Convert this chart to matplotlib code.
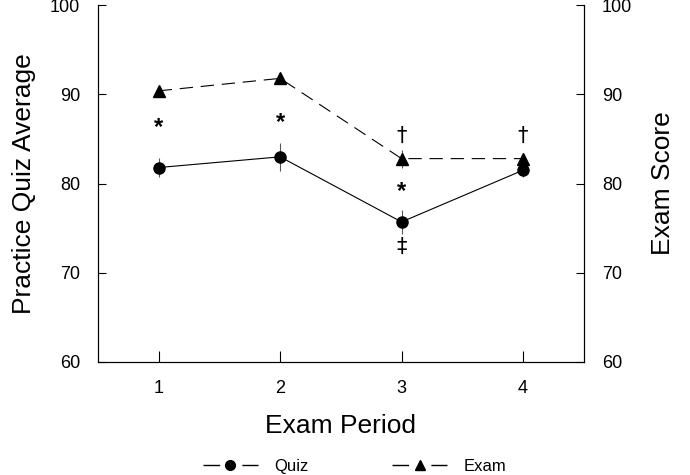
import matplotlib
matplotlib.use('Agg')
import matplotlib.pyplot as plt
from matplotlib.lines import Line2D

plt.rcParams['font.family'] = ['Liberation Sans', 'DejaVu Sans']

periods = [1, 2, 3, 4]
quiz = [81.8, 83.0, 75.7, 81.5]
quiz_err = [1.1, 1.6, 1.3, 0.8]
exam = [90.4, 91.8, 82.8, 82.8]
exam_err = [0.3, 0.3, 1.0, 0.4]

# significance marks: (x, y, symbol)
marks = [(1, 86.3, '*'), (2, 86.9, '*'), (3, 79.1, '*'),
         (3, 85.4, '†'), (4, 85.4, '†'), (3, 72.9, '‡')]

fig = plt.figure(figsize=(6.9, 4.75), dpi=100)
ax = fig.add_axes([0.142, 0.238, 0.704, 0.751])

ax.errorbar(periods, quiz, yerr=quiz_err, fmt='none', ecolor='#555555', elinewidth=0.8, capsize=0)
ax.errorbar(periods, exam, yerr=exam_err, fmt='none', ecolor='#555555', elinewidth=0.8, capsize=0)
ax.plot(periods, quiz, color='black', linewidth=0.8, marker='o', markersize=8)
ax.plot(periods, exam, color='black', linewidth=0.8, linestyle=(0, (12, 7)), marker='^', markersize=8)

for x, y, s in marks:
    if s == '*':
        ax.text(x, y, s, ha='center', va='center', fontsize=17, fontweight='bold')
    else:
        ax.text(x, y, s, ha='center', va='center', fontsize=15, family=['DejaVu Sans'])

ax.set_xlim(0.5, 4.5)
ax.set_ylim(60, 100)
ax.set_xticks(periods)
ax.set_yticks([60, 70, 80, 90, 100])
ax.spines['top'].set_visible(False)
ax.tick_params(direction='in', length=6, width=0.8, labelsize=13, pad=13)
ax.tick_params(axis='x', length=8)
ax.set_xlabel('Exam Period', fontsize=19, labelpad=12)
ax.set_ylabel('Practice Quiz Average', fontsize=19, labelpad=10)

ax2 = ax.twinx()
ax2.set_ylim(60, 100)
ax2.set_yticks([60, 70, 80, 90, 100])
ax2.spines['top'].set_visible(False)
ax2.tick_params(direction='in', length=6, width=0.8, labelsize=13, pad=13)
ax2.set_ylabel('Exam Score', fontsize=19, labelpad=14)

handles = [Line2D([], [], color='black', linewidth=1, linestyle=(0, (12, 16)), marker='o', markersize=7),
           Line2D([], [], color='black', linewidth=1, linestyle=(0, (12, 16)), marker='^', markersize=7)]
fig.legend(handles, ['Quiz', 'Exam'], loc='lower center', bbox_to_anchor=(0.514, -0.03), ncol=2, frameon=False,
           fontsize=12, handlelength=3.3, handletextpad=1.0, columnspacing=5.0)

fig.savefig('out.png', dpi=100)
